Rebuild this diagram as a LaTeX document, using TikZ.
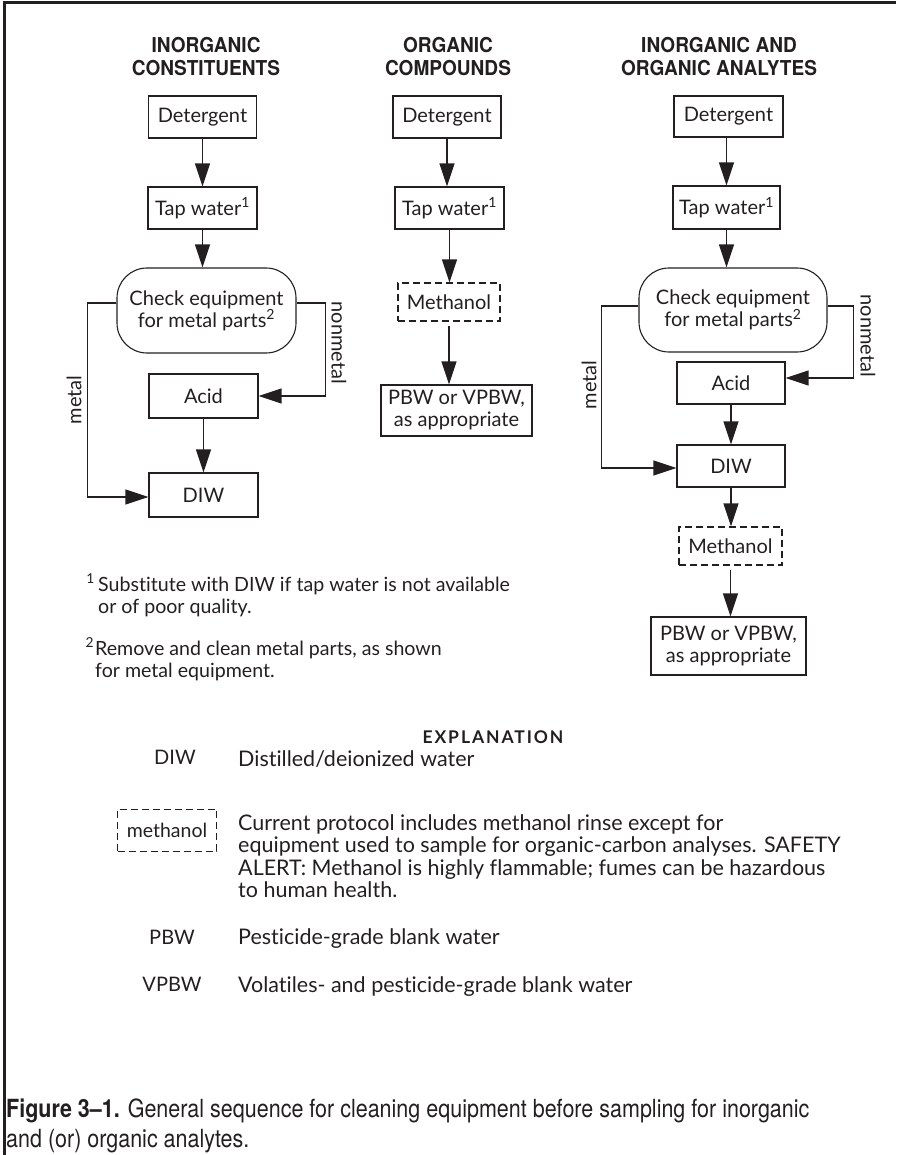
\documentclass[tikz,border=0pt]{standalone}
\usepackage{fontspec}
\setmainfont{Lato}[Ligatures={NoCommon}]
\newfontfamily\hfont[FakeStretch=0.93]{TeX Gyre Heros}
\newfontfamily\capfont[FakeStretch=0.86]{TeX Gyre Heros}
\usetikzlibrary{arrows.meta}
\definecolor{ink}{HTML}{231F20}
\begin{document}
\begin{tikzpicture}[x=1pt,y=-1pt,
  every node/.style={text=ink},
  bx/.style={draw=ink, line width=1.1pt, inner sep=0pt, align=center, font=\fontsize{20}{22}\selectfont},
  dbx/.style={bx, dash pattern=on 7pt off 4pt},
  arr/.style={draw=ink, line width=1.2pt, -{Triangle[length=23pt,width=15pt]}},
  ttl/.style={align=center, font=\hfont\bfseries\fontsize{20.5}{23}\selectfont},
  lbl/.style={font=\fontsize{20}{22}\selectfont},
  fn/.style={anchor=base west, inner sep=0pt, font=\fontsize{19.6}{22}\selectfont},
  ex/.style={anchor=base west, inner sep=0pt, font=\fontsize{21.5}{22.5}\selectfont},
  exl/.style={anchor=base, font=\fontsize{20}{22}\selectfont, inner sep=0pt},
  captxt/.style={anchor=base west, inner sep=0pt, font=\capfont\fontsize{25}{30}\selectfont}
]
\useasboundingbox (0,0) rectangle (896,1155);
\draw[ink, line width=3pt] (4.5,1155) -- (4.5,2.5) -- (896,2.5);

% titles
\node[ttl] (h1) at (206,57) {INORGANIC\\CONSTITUENTS};
\node[ttl] (h2) at (448,57) {ORGANIC\\COMPOUNDS};
\node[ttl] (h3) at (719,57) {INORGANIC AND\\ORGANIC ANALYTES};

% column 1
\node[bx, minimum width=108pt, minimum height=42pt] (d1) at (202.5,117) {Detergent};
\node[bx, minimum width=109pt, minimum height=42pt] (t1) at (202.5,208) {Tap water\textsuperscript{1}};
\node[bx, rounded corners=30pt, minimum width=179pt, minimum height=85pt] (c1) at (206.5,310.5) {Check equipment\\for metal parts\textsuperscript{2}};
\node[bx, minimum width=109pt, minimum height=44pt] (a1) at (203.5,396) {Acid};
\node[bx, minimum width=109pt, minimum height=44pt] (w1) at (203.5,495) {DIW};
\draw[arr] (d1) -- (t1);
\draw[arr] (t1) -- (t1 |- c1.north);
\draw[arr] (a1) -- (w1);
\draw[arr] ([yshift=7.5pt]c1.east) -- ++(29,0) |- (a1.east);
\draw[arr] ([yshift=7.5pt]c1.west) -- ++(-29,0) |- ([yshift=-2pt]w1.west);
\node[lbl, rotate=90] (ml1) at (74,400) {metal};
\node[lbl, rotate=-90] (nl1) at (339,343) {nonmetal};

% column 2
\node[bx, minimum width=108pt, minimum height=42pt] (d2) at (447,117) {Detergent};
\node[bx, minimum width=109pt, minimum height=42pt] (t2) at (449.5,208) {Tap water\textsuperscript{1}};
\node[dbx, minimum width=102pt, minimum height=38pt] (m2) at (449,302) {Methanol};
\node[bx, minimum width=151pt, minimum height=51pt] (p2) at (456.5,410.5) {PBW or VPBW,\\as appropriate};
\draw[arr] (d2) -- (d2 |- t2.north);
\draw[arr] (t2) -- (t2 |- m2.north);
\draw[arr] ([yshift=-4pt]m2.south) -- (m2.south |- p2.north);

% column 3
\node[bx, minimum width=109pt, minimum height=41pt] (d3) at (728.5,116.5) {Detergent};
\node[bx, minimum width=107pt, minimum height=43pt] (t3) at (726.5,207.5) {Tap water\textsuperscript{1}};
\node[bx, rounded corners=30pt, minimum width=188pt, minimum height=84pt] (c3) at (733,310) {Check equipment\\for metal parts\textsuperscript{2}};
\node[bx, minimum width=108pt, minimum height=42pt] (a3) at (731,383) {Acid};
\node[bx, minimum width=108pt, minimum height=42pt] (w3) at (731,466) {DIW};
\node[dbx, minimum width=103pt, minimum height=38pt] (m3) at (730.5,546) {Methanol};
\node[bx, minimum width=155pt, minimum height=58pt] (p3) at (728.5,646) {PBW or VPBW,\\as appropriate};
\draw[arr] (t3 |- d3.south) -- (t3);
\draw[arr] (t3) -- (t3 |- c3.north);
\draw[arr] (a3) -- (w3);
\draw[arr] (w3) -- (w3 |- m3.north);
\draw[arr] ([yshift=-4pt]m3.south) -- (m3.south |- p3.north);
\draw[arr] ([yshift=4pt]c3.east) -- ++(26,0) |- ([yshift=5pt]a3.east);
\draw[arr] ([yshift=4pt]c3.west) -- ++(-37,0) |- ([yshift=-2pt]w3.west);
\node[lbl, rotate=90] (ml3) at (589,385) {metal};
\node[lbl, rotate=-90] (nl3) at (868,336) {nonmetal};

% footnotes
\node[fn] (f1a) at (98,591) {\llap{\textsuperscript{1}\,}Substitute with DIW if tap water is not available};
\node[fn] (f1b) at (98,613) {or of poor quality.};
\node[fn] (f2a) at (95,655) {\llap{\textsuperscript{2}\kern1pt}Remove and clean metal parts, as shown};
\node[fn] (f2b) at (95,677) {for metal equipment.};

% explanation
\node[anchor=base, inner sep=0pt, font=\bfseries\fontsize{17.5}{20}\selectfont\addfontfeature{LetterSpace=11}] (exh) at (493,743) {EXPLANATION};
\node[exl] (k1) at (175,764) {DIW};
\node[ex] (e1) at (238,766) {Distilled/deionized water};
\node[dbx, font=\fontsize{19.5}{20}\selectfont, line width=0.9pt, dash pattern=on 7pt off 4pt, minimum width=99pt, minimum height=42pt] (k2) at (167,830) {methanol};
\node[ex] (e2a) at (238,830) {Current protocol includes methanol rinse except for};
\node[ex] (e2b) at (238,852.5) {equipment used to sample for organic-carbon analyses. SAFETY};
\node[ex] (e2c) at (238,875) {ALERT: Methanol is highly flammable; fumes can be hazardous};
\node[ex] (e2d) at (238,897.5) {to human health.};
\node[exl] (k3) at (172,944) {PBW};
\node[ex] (e3) at (238,944) {Pesticide-grade blank water};
\node[exl] (k4) at (172,991) {VPBW};
\node[ex] (e4) at (238,992) {Volatiles- and pesticide-grade blank water};

% caption
\node[captxt] (cap1) at (6,1117) {\textbf{Figure 3–1.} General sequence for cleaning equipment before sampling for inorganic};
\node[captxt] (cap2) at (6,1147) {and (or) organic analytes.};
\end{tikzpicture}
\end{document}
